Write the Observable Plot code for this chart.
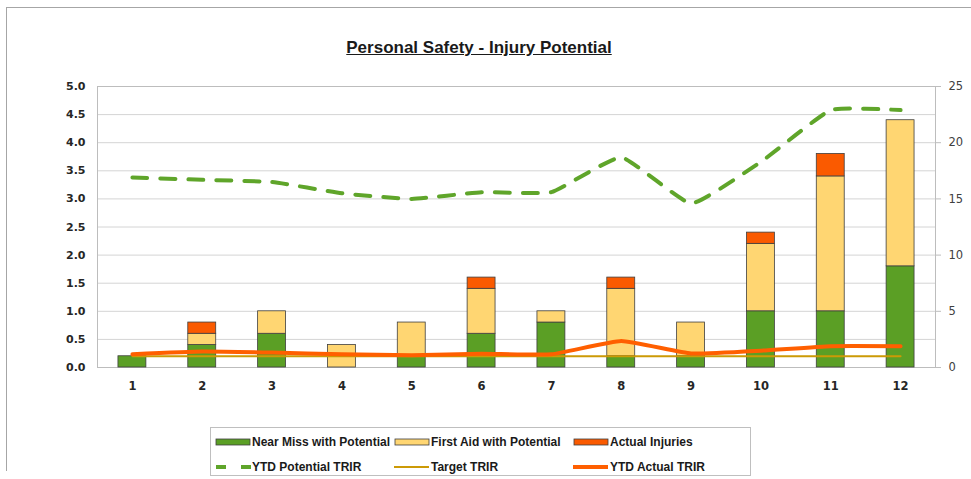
<!DOCTYPE html>
<html>
<head>
<meta charset="utf-8">
<script src="https://cdn.jsdelivr.net/npm/d3@7"></script>
<script src="https://cdn.jsdelivr.net/npm/@observablehq/plot@0.6"></script>
<style>
  html, body { margin: 0; padding: 0; background: #fff; }
  #wrap { position: relative; width: 971px; height: 479px; overflow: hidden; background: #fff; }
  #frame { position: absolute; left: 6px; top: 7px; width: 1000px; height: 463px; border-left: 1px solid #a6a6a6; border-top: 1px solid #a6a6a6; }
  #chart { position: absolute; left: 0; top: 0; }
  #title { position: absolute; left: 0; top: 37px; width: 958px; text-align: center; font-family: "Liberation Sans", Arial, sans-serif; font-weight: bold; font-size: 17px; line-height: 22px; color: #1a1a1a; text-decoration: underline; }
  #legend { position: absolute; left: 210px; top: 427px; width: 541px; height: 49px; border: 1px solid #bfbfbf; box-sizing: border-box; font-family: "Liberation Sans", Arial, sans-serif; font-weight: bold; font-size: 12px; color: #1a1a1a; }
  .item { position: absolute; height: 16px; line-height: 16px; white-space: nowrap; }
  .item svg { position: absolute; left: 0; top: 0; }
  .item span { position: absolute; left: 37px; top: 0; }
</style>
</head>
<body>
<div id="wrap">
  <div id="frame"></div>
  <div id="chart"></div>
  <div id="title">Personal Safety - Injury Potential</div>
  <div id="legend"></div>
</div>
<script>
// ---- data ----
const months = [1, 2, 3, 4, 5, 6, 7, 8, 9, 10, 11, 12];
const nearMiss = [0.2, 0.4, 0.6, 0, 0.2, 0.6, 0.8, 0.2, 0.2, 1.0, 1.0, 1.8];
const firstAid = [0, 0.2, 0.4, 0.4, 0.6, 0.8, 0.2, 1.2, 0.6, 1.2, 2.4, 2.6];
const actualInjuries = [0, 0.2, 0, 0, 0, 0.2, 0, 0.2, 0, 0.2, 0.4, 0];
const ytdPotentialTRIR = [16.9, 16.7, 16.5, 15.5, 15.0, 15.6, 15.6, 18.7, 14.6, 18.3, 22.9, 22.9];
const targetTRIR = [1, 1, 1, 1, 1, 1, 1, 1, 1, 1, 1, 1];
const ytdActualTRIR = [1.18, 1.42, 1.33, 1.18, 1.09, 1.22, 1.18, 2.36, 1.25, 1.5, 1.9, 1.9];
const leftTicks = [0, 0.5, 1.0, 1.5, 2.0, 2.5, 3.0, 3.5, 4.0, 4.5, 5.0];
const rightTicks = [0, 5, 10, 15, 20, 25];
const barSeries = ["Near Miss with Potential", "First Aid with Potential", "Actual Injuries"];
const lineSeries = ["YTD Potential TRIR", "Target TRIR", "YTD Actual TRIR"];
const barColors = ["#5B9F25", "#FFD672", "#FA5A00"];
const colPotential = "#5FA52A", colTarget = "#CC9A06", colActual = "#FF5F00";

// ---- tables ----
const barSets = [nearMiss, firstAid, actualInjuries];
const bars = [];
months.forEach((m, i) => barSets.forEach((arr, s) => { if (arr[i] > 0) bars.push({month: m, series: barSeries[s], value: arr[i]}); }));
const ratio = 25 / 5; // right axis units per left axis unit
const lineRows = (arr) => months.map((m, i) => ({month: m, v: arr[i]}));

const plot = Plot.plot({
  width: 971, height: 479,
  marginTop: 86, marginBottom: 112, marginLeft: 97, marginRight: 36,
  style: {fontFamily: "DejaVu Sans, sans-serif", background: "transparent", overflow: "visible"},
  x: {type: "band", domain: months, paddingInner: 0.6, paddingOuter: 0.3, round: false, label: null},
  y: {domain: [0, 5], label: null},
  color: {domain: barSeries, range: barColors},
  marks: [
    Plot.ruleY(leftTicks, {stroke: "#d4d4d4", strokeWidth: 1}),
    Plot.frame({stroke: "#bdbdbd"}),
    Plot.barY(bars, {x: "month", y: "value", fill: "series", stroke: "#3f3f3f", strokeWidth: 0.8}),
    Plot.line(lineRows(ytdPotentialTRIR), {x: "month", y: d => d.v / ratio, stroke: colPotential, strokeWidth: 4, strokeDasharray: "15,13", curve: "cardinal", tension: 0.6}),
    Plot.line(lineRows(targetTRIR), {x: "month", y: d => d.v / ratio, stroke: colTarget, strokeWidth: 2}),
    Plot.line(lineRows(ytdActualTRIR), {x: "month", y: d => d.v / ratio, stroke: colActual, strokeWidth: 4, curve: "cardinal", tension: 0.6}),
    Plot.axisY(leftTicks, {anchor: "left", tickSize: 0, tickPadding: 12, tickFormat: d => d.toFixed(1), fontWeight: "bold", fontSize: 11, fill: "#262626", label: null}),
    Plot.axisY(rightTicks.map(v => v / ratio), {anchor: "right", tickSize: 5, tickPadding: 8, tickFormat: d => String(Math.round(d * ratio)), fontSize: 11.5, fill: "#404040", stroke: "#bdbdbd", label: null}),
    Plot.axisX({tickSize: 0, tickPadding: 14, fontWeight: "bold", fontSize: 11.5, fill: "#262626", label: null})
  ]
});
document.getElementById("chart").appendChild(plot);

// ---- legend ----
const legend = document.getElementById("legend");
const cols = [4, 183, 362];
const rows = [6, 31];
function addItem(col, row, label, swatch) {
  const d = document.createElement("div");
  d.className = "item";
  d.style.left = cols[col] + "px";
  d.style.top = rows[row] + "px";
  d.innerHTML = `<svg width="36" height="16">${swatch}</svg><span>${label}</span>`;
  legend.appendChild(d);
}
barSeries.forEach((s, i) => addItem(i, 0, s, `<rect x="1" y="5" width="34" height="6" fill="${barColors[i]}" stroke="#3f3f3f" stroke-width="0.8"/>`));
addItem(0, 1, lineSeries[0], `<line x1="1" x2="36" y1="8" y2="8" stroke="${colPotential}" stroke-width="4" stroke-dasharray="10,15"/>`);
addItem(1, 1, lineSeries[1], `<line x1="0" x2="35" y1="8" y2="8" stroke="${colTarget}" stroke-width="2"/>`);
addItem(2, 1, lineSeries[2], `<line x1="0" x2="35" y1="8" y2="8" stroke="${colActual}" stroke-width="4"/>`);
</script>
</body>
</html>
